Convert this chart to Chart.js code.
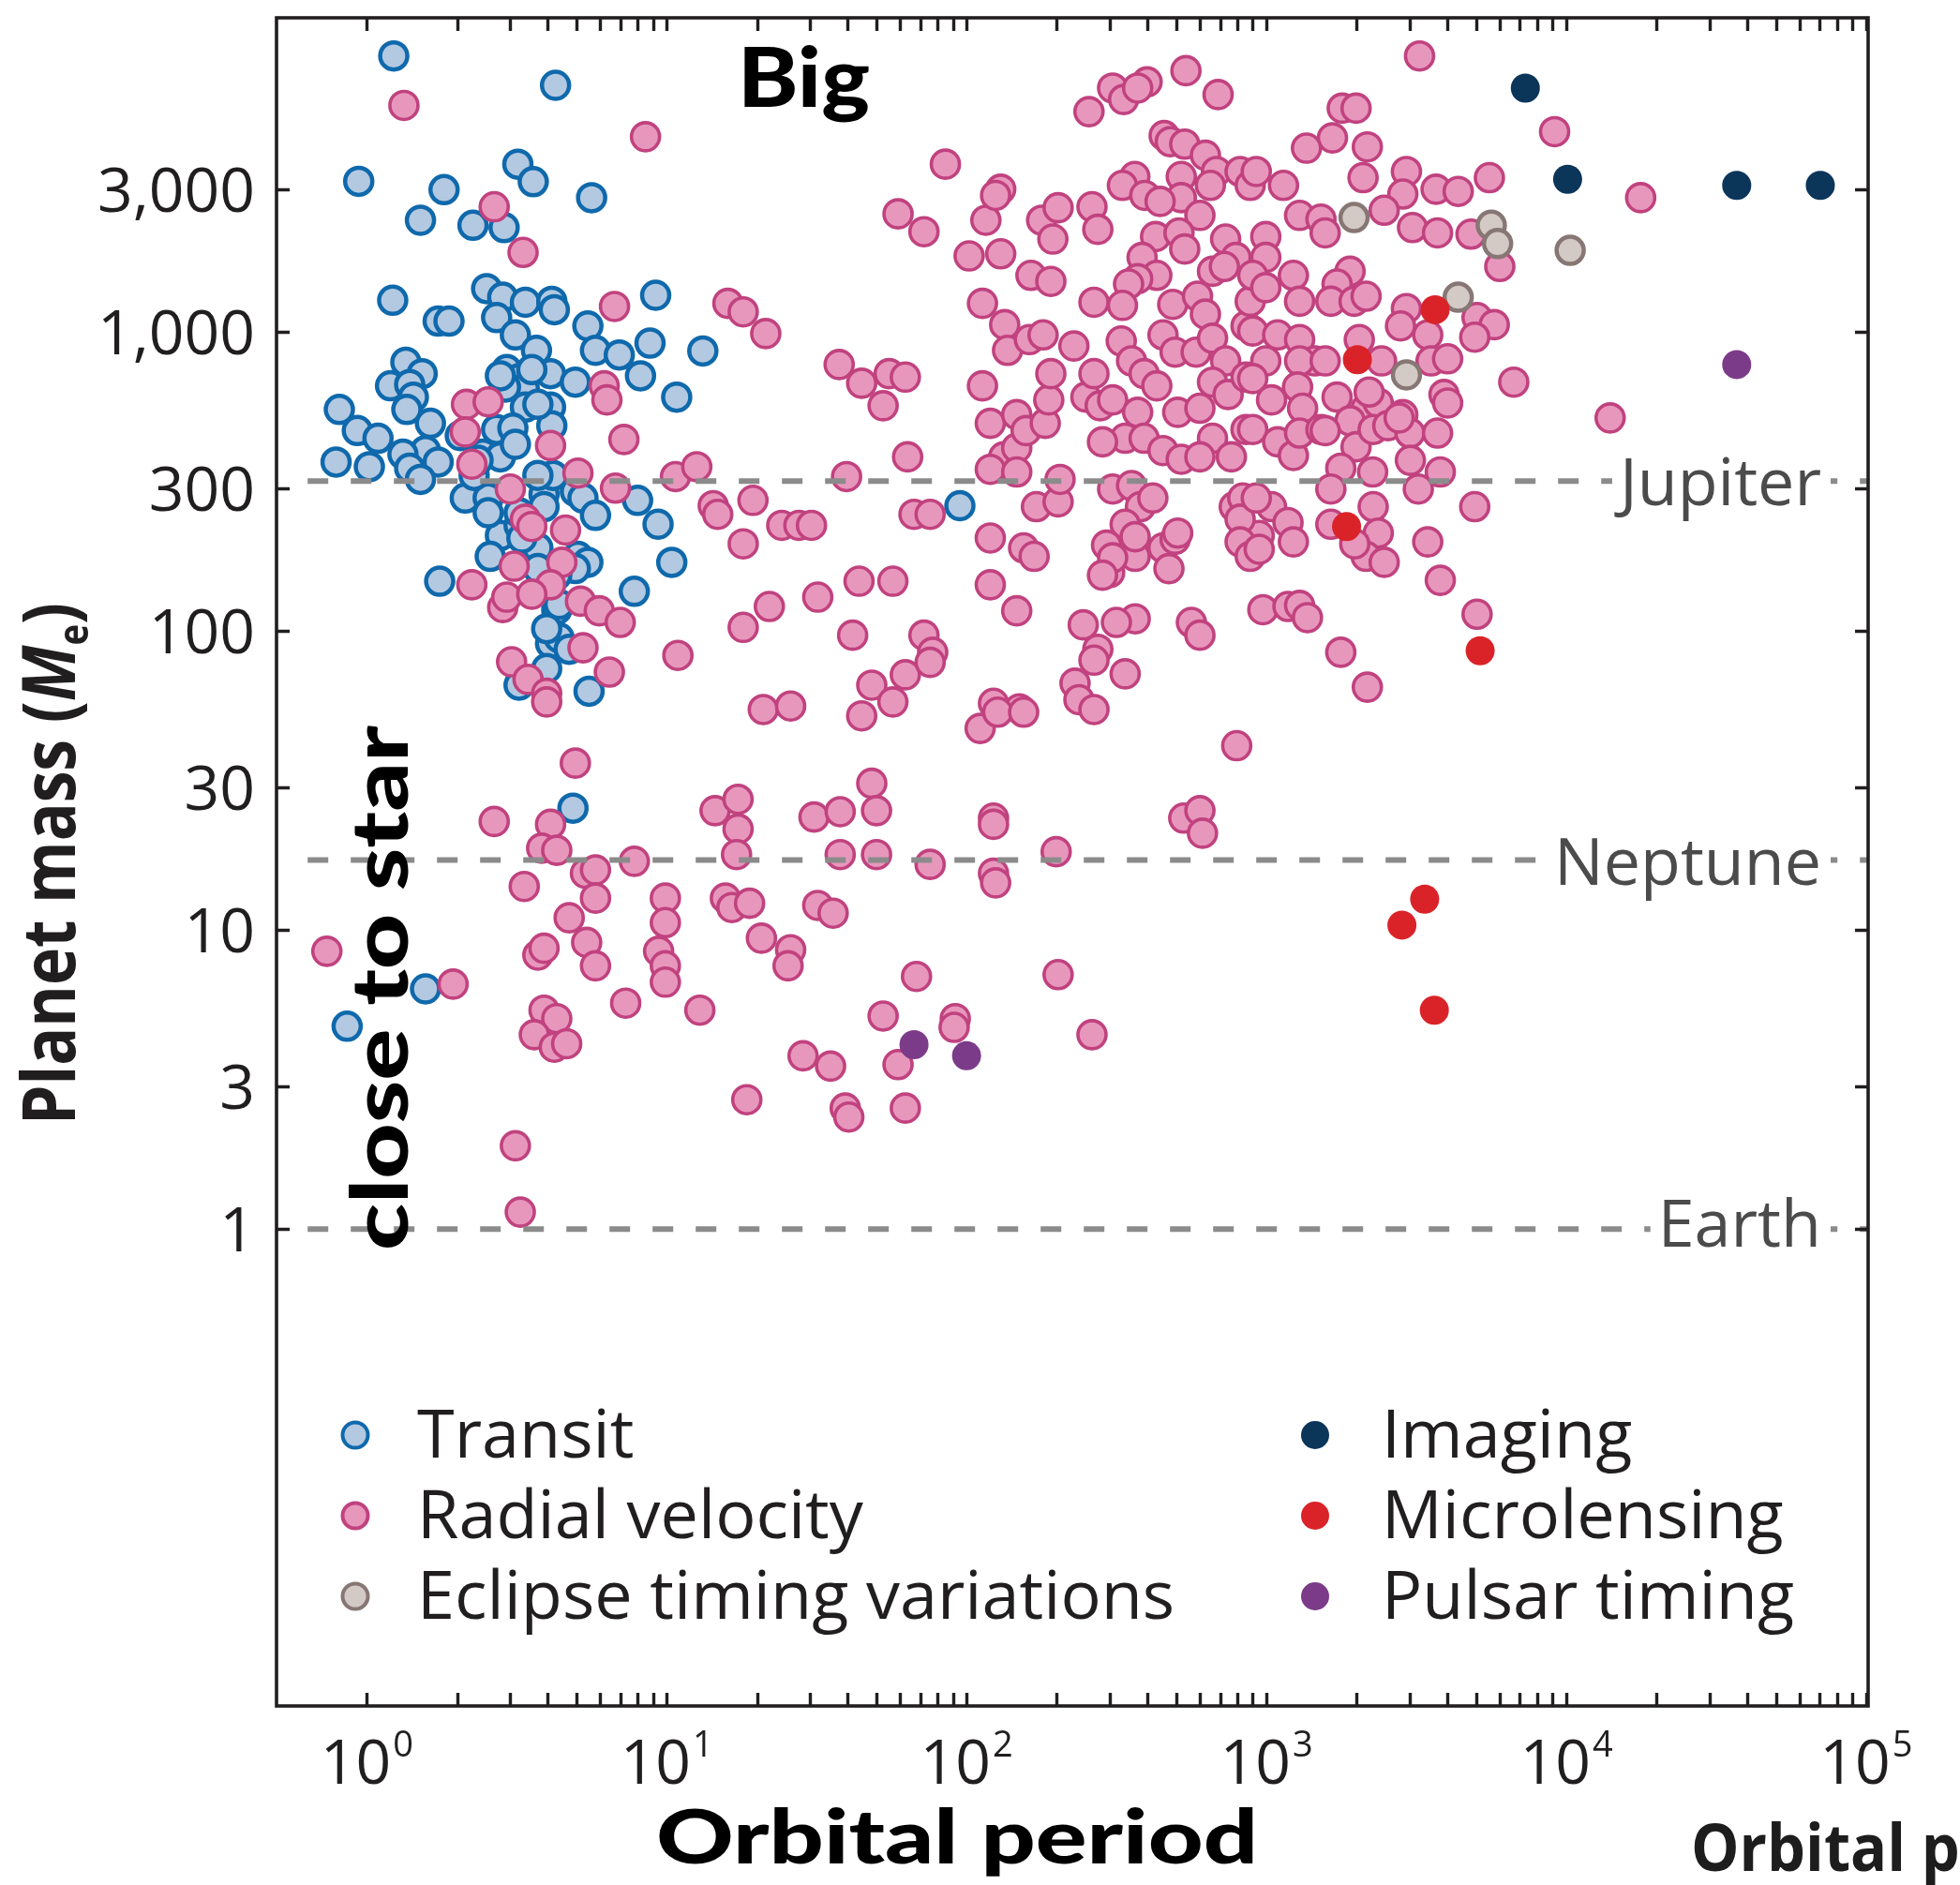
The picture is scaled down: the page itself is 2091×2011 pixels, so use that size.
<!DOCTYPE html>
<html>
<head>
<meta charset="utf-8">
<script src="https://cdn.jsdelivr.net/npm/chart.js@4.4.1/dist/chart.umd.min.js"></script>
<style>
  html, body { margin: 0; padding: 0; background: #ffffff; }
  canvas { display: block; }
</style>
</head>
<body>
<canvas id="planets" width="2091" height="2011" style="width:2091px;height:2011px"></canvas>
<script>
// Known exoplanets: [orbital period (days), planet mass (Earth masses)]
const transit = [
  [1.23,8400],[4.26,6700],[0.94,3200],[1.81,3000],[3.19,3650],[3.59,3190],[5.62,2820],[1.51,2370],[2.26,2280],[2.87,2240],
  [1.22,1280],[1.73,1090],[1.88,1090],[2.51,1400],[2.84,1310],[3.38,1260],[4.14,1270],[4.22,1190],[2.71,1120],[3.13,980],
  [3.68,870],[5.46,1050],[5.79,870],[6.95,840],[9.19,1330],[8.8,920],[8.18,715],[10.8,607],[13.2,866],[1.35,794],
  [1.53,727],[1.2,662],[1.39,669],[1.43,607],[1.36,552],[0.81,552],[0.93,469],[1.09,442],[1.63,496],[1.57,402],
  [1.32,391],[1.73,368],[1.39,351],[1.51,322],[0.79,368],[1.02,355],[2.93,750],[3.22,700],[3.35,649],[4.1,727],
  [4.96,681],[2.9,656],[3.38,562],[4.1,562],[4.14,487],[2.71,473],[3.07,478],[2.44,391],[2.79,383],[2.13,279],
  [2.54,279],[2.28,332],[3.9,287],[4.18,332],[4.96,293],[5.26,279],[5.79,244],[8.0,274],[9.36,228],[2.79,209],
  [3.22,226],[2.58,178],[3.72,190],[5.06,178],[5.46,170],[4.96,162],[4.3,154],[1.75,147],[10.4,170],[7.8,136],
  [4.3,118],[4.1,91],[4.38,95],[4.73,87],[3.98,75],[3.22,66],[5.51,63],[95,263],[4.87,25.6],[0.86,4.77],
  [1.57,6.36],[2.79,715],[3.55,750],[3.72,574],[3.13,422],[3.72,332],[3.9,261],[3.22,249],[2.54,249],[3.29,205],
  [3.72,162],[4.38,123],[3.98,102],[2.05,451],[2.35,373]
];

const radialVelocity = [
  [1.33,5740],[2.66,2630],[3.32,1850],[8.5,4510],[6.7,1220],[2.15,574],[2.54,585],[2.13,464],[2.24,362],[4.1,418],
  [6.19,662],[6.32,594],[7.2,438],[3.01,299],[5.06,338],[6.75,301],[3.38,237],[3.55,224],[4.6,218],[2.24,143],
  [3.1,165],[4.47,170],[4.1,143],[2.84,120],[2.93,130],[3.55,133],[5.16,126],[5.96,117],[7.0,107],[5.26,88],
  [10.9,83],[3.04,79],[3.45,69],[3.98,62],[6.44,73],[10.7,329],[12.6,355],[14.3,263],[3.98,58],[4.96,36.2],
  [2.66,23.1],[4.1,22.6],[3.83,18.8],[4.3,18.5],[7.8,17.0],[3.35,14.0],[5.36,15.5],[5.79,15.9],[5.79,12.8],[4.73,11.0],
  [5.41,9.1],[5.79,7.6],[3.72,8.25],[3.9,8.7],[1.94,6.6],[0.736,8.5],[7.3,5.7],[3.9,5.4],[4.3,5.06],[3.62,4.47],
  [4.22,4.06],[4.64,4.17],[12.9,5.4],[3.13,1.9],[3.25,1.14],[16,1250],[18.0,1170],[21.4,990],[37.6,780],[44.7,675],
  [52.7,568],[55.2,727],[62.5,708],[63.6,383],[14.8,246],[19.4,274],[18.0,196],[24.2,226],[27.6,226],[30.4,226],
  [66.8,246],[75.6,246],[39.8,329],[43.8,147],[56.8,147],[22.0,121],[31.9,130],[18.0,103],[41.7,97],[72.1,97],
  [77.1,85],[21.0,54.7],[25.9,56.2],[44.7,52.1],[48.3,66],[56.8,58],[62.5,71.5],[75.6,78.7],[14.5,25.1],[17.3,27.4],
  [17.3,21.8],[17.1,17.9],[31.0,23.9],[37.9,24.9],[48.3,31.0],[50.1,25.1],[37.9,17.9],[50.1,17.9],[75.6,16.6],[9.9,12.8],
  [9.9,10.6],[9.4,8.5],[9.9,7.6],[9.9,6.7],[15.7,12.8],[16.5,11.9],[18.9,12.3],[31.9,12.1],[35.9,11.4],[20.7,9.4],
  [25.9,8.6],[25.4,7.6],[68.1,7.0],[52.7,5.16],[91.7,5.06],[90.9,4.73],[59.1,3.55],[28.5,3.8],[35.2,3.51],[18.5,2.71],
  [39.4,2.54],[40.5,2.37],[62.5,2.54],[59.1,2490],[72.1,2170],[85.0,3650],[116,2370],[130,3010],[125,2870],[102,1800],
  [130,1830],[178,2370],[202,2610],[194,2050],[262,2630],[274,2210],[164,1550],[191,1480],[113,1250],[113,662],
  [120,496],[133,383],[147,410],[120,348],[147,530],[158,469],[183,496],[171,261],[202,271],[120,205],
  [155,190],[168,178],[120,143],[147,117],[300,157],[365,178],[365,110],[245,105],[274,87],[452,190],
  [496,203],[473,162],[781,261],[946,209],[1040,261],[1180,231],[973,118],[1180,121],[316,107],[562,107],
  [600,97],[539,7500],[690,6240],[256,5470],[307,6560],[334,6010],[400,6880],[372,6560],[456,4550],[478,4340],
  [534,4260],[626,3910],[681,3450],[650,3100],[817,3450],[883,3100],[364,3320],[331,3100],[393,2870],[520,3320],
  [520,2820],[442,2740],[600,2460],[427,2090],[511,2150],[534,1900],[731,2050],[792,1780],[385,1780],[431,1550],
  [372,1510],[661,1600],[724,1660],[347,1450],[134,1060],[137,870],[162,945],[180,980],[228,900],[266,1260],
  [331,1230],[487,1240],[589,1320],[626,1150],[188,594],[191,727],[250,607],[266,727],[279,568],[307,594],
  [147,341],[205,322],[338,72],[230,67],[237,59],[123,57.4],[150,55],[328,935],[355,802],[391,727],
  [452,980],[496,858],[431,662],[506,540],[583,858],[661,955],[731,802],[661,681],[600,557],[745,619],
  [661,442],[764,383],[855,473],[372,540],[338,442],[391,442],[452,402],[520,376],[600,383],[284,430],
  [855,708],[855,1050],[883,1270],[307,299],[355,307],[380,261],[418,279],[338,228],[365,207],[293,194],
  [307,176],[284,154],[506,213],[834,279],[817,237],[817,199],[883,178],[111,47.3],[127,53.6],[155,53.6],
  [266,54.7],[266,80],[796,41.4],[123,23.7],[123,22.6],[123,15.5],[125,14.4],[199,18.3],[530,23.7],[600,25.1],
  [612,21.1],[202,7.1],[262,4.47],[3240,8400],[1790,5620],[1990,5620],[1660,4470],[1360,4130],[2170,4170],[2100,3290],
  [2930,3450],[2850,2900],[3680,3010],[4360,2960],[5540,3290],[9140,4690],[925,3450],[1140,3100],[1290,2460],[1520,2390],
  [1570,2150],[2470,2560],[3070,2240],[3720,2150],[4810,2130],[6000,1660],[995,2090],[995,1780],[900,1550],[995,1410],
  [1230,1550],[1290,1270],[1900,1600],[1720,1450],[1640,1270],[1960,1270],[2150,1320],[2930,1200],[2800,1050],[3450,980],
  [5040,1120],[5750,1060],[4950,963],[900,1010],[1090,980],[1290,945],[1450,802],[1290,802],[995,802],[900,700],
  [2040,945],[2420,802],[3540,802],[4020,815],[6680,681],[1040,594],[1270,656],[1320,557],[1720,607],[2150,557],
  [2360,580],[2850,530],[3910,619],[4020,580],[900,473],[1090,430],[1230,387],[1290,460],[1520,473],[1900,506],
  [1990,414],[2270,473],[2540,487],[3010,460],[3720,460],[1770,351],[1640,299],[2260,341],[3800,341],[3210,299],
  [925,279],[1230,199],[946,188],[1640,228],[2270,261],[2360,213],[2150,178],[2470,170],[4950,261],[3450,199],
  [3800,148],[1290,122],[1370,111],[5040,114],[1770,85],[2170,65],[17700,2820],[14000,517],[1570,802],[2200,631],
  [2770,517],[1570,469],[3020,373],[1970,196]
];

const eclipseTiming = [[1960,2420],[5620,2280],[5900,1980],[10300,1880],[4360,1310],[2930,720]];
const microlensing = [[3650,1190],[2010,810],[1850,224],[5160,86],[3370,12.7],[2830,10.4],[3630,5.4]];
const imaging = [[7300,6560],[10100,3250],[37000,3100],[70300,3100]];
const pulsarTiming = [[66.8,4.14],[100,3.8],[37000,780]];

// Axis ranges and tick labels
const periodRange = [0.5, 101500];
const massRange = [0.0254, 11270];
const massTicks = [1, 3, 10, 30, 100, 300, 1000, 3000];
const massTickLabels = ['1', '3', '10', '30', '100', '300', '1,000', '3,000'];
const periodExponents = [0, 1, 2, 3, 4, 5];

// Solar-system reference masses
const referenceNames = ['Jupiter', 'Neptune', 'Earth'];
const referenceMasses = [317.8, 17.15, 1];
const referenceLineStart = 0.635;

const FONT = '"Open Sans", "Noto Sans", sans-serif';
const HEAVY = 'Lato, "DejaVu Sans", sans-serif';

function toXY(list) { return list.map(([p, m]) => ({ x: p, y: m })); }

const datasets = [
  { label: 'Transit', data: toXY(transit), order: 6,
    pointRadius: 14.5, pointBorderWidth: 4.5, pointBackgroundColor: '#b3c9e1', pointBorderColor: '#0f69ac' },
  { label: 'Radial velocity', data: toXY(radialVelocity), order: 5,
    pointRadius: 15, pointBorderWidth: 3.6, pointBackgroundColor: '#e897bc', pointBorderColor: '#c1427f' },
  { label: 'Eclipse timing variations', data: toXY(eclipseTiming), order: 4,
    pointRadius: 14.5, pointBorderWidth: 4.5, pointBackgroundColor: '#d3cac6', pointBorderColor: '#877774' },
  { label: 'Imaging', data: toXY(imaging), order: 2,
    pointRadius: 15.5, pointBorderWidth: 0, pointBackgroundColor: '#0c355a', pointBorderColor: '#0c355a' },
  { label: 'Microlensing', data: toXY(microlensing), order: 3,
    pointRadius: 15.5, pointBorderWidth: 0, pointBackgroundColor: '#da2328', pointBorderColor: '#da2328' },
  { label: 'Pulsar timing', data: toXY(pulsarTiming), order: 1,
    pointRadius: 15.5, pointBorderWidth: 0, pointBackgroundColor: '#7b3b89', pointBorderColor: '#7b3b89' }
];
datasets.forEach(d => { d.pointHoverRadius = d.pointRadius; d.showLine = false; });

// Legend layout: two columns, three rows
const legendColumns = [{ marker: 379, text: 445 }, { marker: 1403, text: 1474 }];
const legendRows = [1531, 1617, 1703];

function drawFitted(ctx, text, x, y, width, font, color, angle) {
  ctx.save();
  ctx.font = font;
  ctx.fillStyle = color;
  ctx.textAlign = 'left';
  ctx.textBaseline = 'alphabetic';
  ctx.translate(x, y);
  if (angle) ctx.rotate(angle);
  const w = ctx.measureText(text).width;
  ctx.scale(width / w, 1);
  ctx.fillText(text, 0, 0);
  ctx.restore();
}

const decorations = {
  id: 'decorations',
  afterDatasetsDraw(chart) {
    const { ctx, chartArea: a, scales: { x, y } } = chart;
    ctx.save();
    // dashed reference lines
    ctx.strokeStyle = '#8b8b8b';
    ctx.lineWidth = 6;
    ctx.setLineDash([22, 24]);
    const x0 = x.getPixelForValue(referenceLineStart);
    referenceMasses.forEach(m => {
      const py = y.getPixelForValue(m);
      ctx.beginPath();
      ctx.moveTo(x0, py);
      ctx.lineTo(a.right, py);
      ctx.stroke();
    });
    ctx.setLineDash([]);
    // names on a white patch
    ctx.font = '400 70px ' + FONT;
    ctx.textAlign = 'right';
    ctx.textBaseline = 'alphabetic';
    const right = 1943;
    const lift = [0, 0, 7];
    referenceNames.forEach((name, i) => {
      const py = y.getPixelForValue(referenceMasses[i]);
      const w = ctx.measureText(name).width;
      ctx.fillStyle = '#ffffff';
      ctx.fillRect(right - w - 8, py - 8, w + 18, 16);
      ctx.fillStyle = '#4b4b4b';
      ctx.fillText(name, right, py + 26 - lift[i]);
    });
    ctx.restore();
  },
  afterDraw(chart) {
    const { ctx, chartArea: a, scales: { x, y } } = chart;
    ctx.save();
    const ink = '#211e1f';

    // frame
    ctx.strokeStyle = ink;
    ctx.lineWidth = 3.6;
    ctx.strokeRect(a.left, a.top, a.right - a.left, a.bottom - a.top);

    // period ticks on bottom and top edges, pointing inward
    ctx.lineWidth = 3.4;
    const tickLen = 14;
    ctx.beginPath();
    periodExponents.forEach(e => {
      const steps = e === periodExponents[periodExponents.length - 1] ? [1] : [1, 2, 3, 4, 5, 6, 7, 8, 9];
      steps.forEach(k => {
        const px = Math.round(x.getPixelForValue(k * Math.pow(10, e))) + 0.5;
        ctx.moveTo(px, a.bottom); ctx.lineTo(px, a.bottom - tickLen);
        ctx.moveTo(px, a.top); ctx.lineTo(px, a.top + tickLen);
      });
    });
    // mass ticks on left and right edges
    massTicks.forEach(v => {
      const py = Math.round(y.getPixelForValue(v)) + 0.5;
      ctx.moveTo(a.left, py); ctx.lineTo(a.left + tickLen, py);
      ctx.moveTo(a.right, py); ctx.lineTo(a.right - tickLen, py);
    });
    ctx.stroke();

    // mass tick labels
    ctx.fillStyle = ink;
    ctx.font = '400 66px ' + FONT;
    ctx.textAlign = 'right';
    ctx.textBaseline = 'alphabetic';
    massTicks.forEach((v, i) => {
      ctx.fillText(massTickLabels[i], 272, y.getPixelForValue(v) + 24);
    });

    // period tick labels: 10 with a raised exponent
    ctx.textAlign = 'left';
    periodExponents.forEach(e => {
      const px = x.getPixelForValue(Math.pow(10, e));
      ctx.font = '400 66px ' + FONT;
      const wb = ctx.measureText('10').width;
      ctx.font = '400 38px ' + FONT;
      const we = ctx.measureText(String(e)).width;
      const start = px - (wb + we + 2) / 2;
      ctx.font = '400 66px ' + FONT;
      ctx.fillText('10', start, 1903);
      ctx.font = '400 38px ' + FONT;
      ctx.fillText(String(e), start + wb + 2, 1874);
    });

    // legend
    chart.data.datasets.forEach((ds, i) => {
      const col = legendColumns[Math.floor(i / 3)];
      const row = legendRows[i % 3];
      ctx.beginPath();
      const r = ds.pointBorderWidth ? 13.5 : 15;
      ctx.arc(col.marker, row, r, 0, Math.PI * 2);
      ctx.fillStyle = ds.pointBackgroundColor;
      ctx.fill();
      if (ds.pointBorderWidth) {
        ctx.lineWidth = 4;
        ctx.strokeStyle = ds.pointBorderColor;
        ctx.stroke();
      }
      ctx.fillStyle = ink;
      ctx.font = '400 72px ' + FONT;
      ctx.textAlign = 'left';
      ctx.fillText(ds.label, col.text, row + 24);
    });

    // y axis title: Planet mass (M_e)
    ctx.save();
    ctx.translate(80, 1200);
    ctx.rotate(-Math.PI / 2);
    const pieces = [
      { t: 'Planet mass (', f: '700 78px ' + FONT, dy: 0 },
      { t: 'M', f: 'italic 700 78px ' + FONT, dy: 0 },
      { t: 'e', f: '700 44px ' + FONT, dy: 14 },
      { t: ')', f: '700 78px ' + FONT, dy: 0 }
    ];
    let total = 0;
    pieces.forEach(p => { ctx.font = p.f; p.w = ctx.measureText(p.t).width; total += p.w; });
    ctx.scale(557 / total, 1);
    ctx.fillStyle = ink;
    ctx.textAlign = 'left';
    ctx.textBaseline = 'alphabetic';
    let cx = 0;
    pieces.forEach(p => { ctx.font = p.f; ctx.fillText(p.t, cx, p.dy); cx += p.w; });
    ctx.restore();

    // heavy annotations
    drawFitted(ctx, 'Big', 787, 114, 141, '900 88px ' + HEAVY, '#000000');
    drawFitted(ctx, 'close to star', 435, 1334, 560, '900 83px ' + HEAVY, '#000000', -Math.PI / 2);
    drawFitted(ctx, 'Orbital period', 700, 1988, 642, '900 80px ' + HEAVY, '#000000');

    // secondary axis caption running off the right edge
    ctx.font = '700 70px ' + FONT;
    const wOrb = ctx.measureText('Orbital').width;
    ctx.save();
    ctx.translate(1804, 1996);
    ctx.scale(229 / wOrb, 1);
    ctx.fillStyle = '#1d1d1d';
    ctx.textAlign = 'left';
    ctx.fillText('Orbital period', 0, 0);
    ctx.restore();

    ctx.restore();
  }
};

Chart.defaults.font.family = FONT;

new Chart(document.getElementById('planets'), {
  type: 'scatter',
  data: { datasets },
  options: {
    responsive: false,
    animation: false,
    devicePixelRatio: 1,
    events: [],
    layout: { padding: { left: 0, top: 13, right: 98, bottom: 0 } },
    plugins: { legend: { display: false }, tooltip: { enabled: false } },
    scales: {
      x: {
        type: 'logarithmic', min: periodRange[0], max: periodRange[1],
        ticks: { display: false }, grid: { display: false }, border: { display: false },
        afterFit(scale) { scale.height = 191; }
      },
      y: {
        type: 'logarithmic', min: massRange[0], max: massRange[1],
        ticks: { display: false }, grid: { display: false }, border: { display: false },
        afterFit(scale) { scale.width = 295; }
      }
    }
  },
  plugins: [decorations]
});
</script>
</body>
</html>
